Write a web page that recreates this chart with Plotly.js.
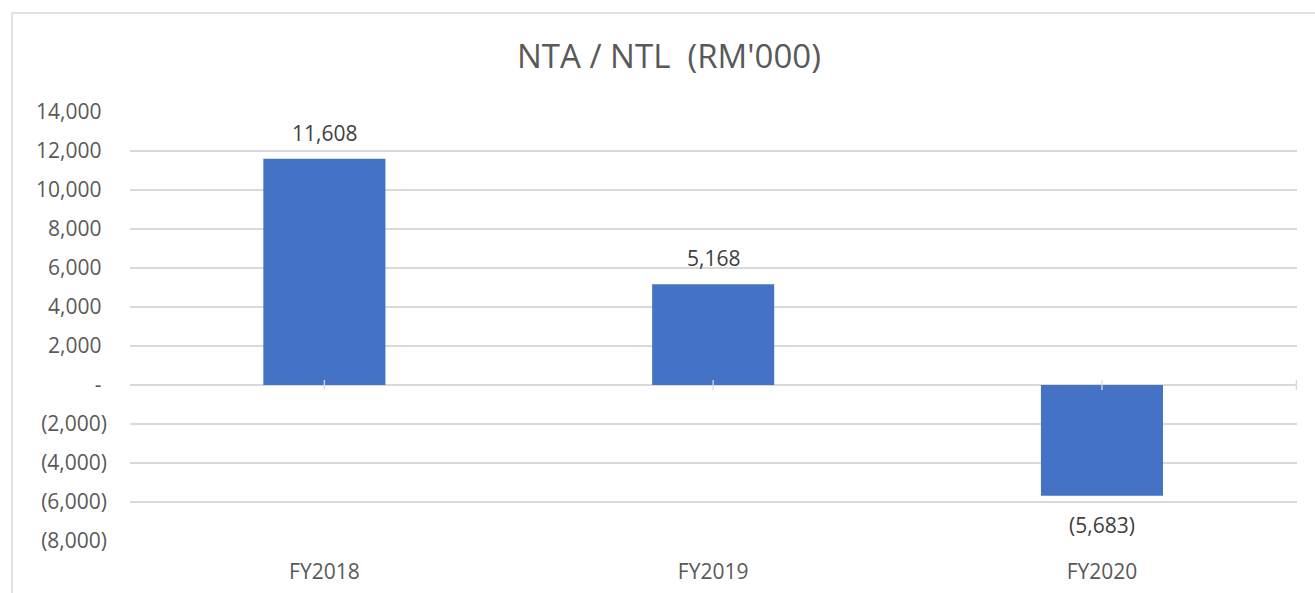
<!DOCTYPE html>
<html>
<head>
<meta charset="utf-8">
<script src="https://cdn.plot.ly/plotly-3.0.1.min.js"></script>
<style>
html,body{margin:0;padding:0;background:#fff;}
#chart{width:1315px;height:593px;}
</style>
</head>
<body>
<div id="chart"></div>
<script>
const categories = ["FY2018", "FY2019", "FY2020"];
const values = [11608, 5168, -5683];
const yTickValues = [14000, 12000, 10000, 8000, 6000, 4000, 2000, 0, -2000, -4000, -6000, -8000];

function fmt(v, pad) {
  if (v === 0) return pad ? "- " : "-";
  const s = Math.abs(v).toLocaleString("en-US");
  return v < 0 ? "(" + s + ")" : (pad ? s + " " : s);
}

const FONT = "Open Sans, Noto Sans, sans-serif";

const trace = {
  type: "bar",
  x: categories,
  y: values,
  marker: {color: "#4472C4", line: {width: 0}},
  hoverinfo: "x+y"
};

const labelAnnotations = categories.map((c, i) => ({
  x: c, y: values[i], xref: "x", yref: "y",
  text: fmt(values[i], false),
  showarrow: false,
  xanchor: "center", yanchor: "middle",
  yshift: values[i] >= 0 ? 26 : -29,
  font: {family: FONT, size: 21, color: "#404040"}
}));

const layout = {
  width: 1315,
  height: 593,
  margin: {l: 130, r: 18, t: 112, b: 52},
  paper_bgcolor: "#ffffff",
  plot_bgcolor: "#ffffff",
  showlegend: false,
  bargap: 0.686,
  title: {
    text: "NTA / NTL  (RM'000)",
    font: {family: FONT, size: 33, color: "#595959"},
    x: 0.5087, xref: "container", xanchor: "center",
    y: 0.905, yref: "container", yanchor: "middle"
  },
  xaxis: {
    type: "category",
    showgrid: false,
    showline: false,
    zeroline: false,
    ticks: "",
    tickfont: {family: FONT, size: 21, color: "#595959"},
    ticklabelstandoff: 16
  },
  yaxis: {
    range: [-8000, 14000],
    tickvals: yTickValues,
    ticktext: yTickValues.map(v => fmt(v, true)),
    tickfont: {family: FONT, size: 21, color: "#595959"},
    showgrid: true,
    gridcolor: "#D9D9D9",
    gridwidth: 1.3,
    zeroline: true,
    zerolinecolor: "#D9D9D9",
    zerolinewidth: 1.3,
    showline: false,
    ticks: "",
    ticklabelstandoff: 22
  },
  annotations: labelAnnotations,
  shapes: [
    {type: "rect", xref: "paper", yref: "paper",
     x0: -0.1011, x1: 1.2, y0: -0.3, y1: 1.2308,
     line: {color: "#D9D9D9", width: 1.5}, fillcolor: "rgba(0,0,0,0)", layer: "below"}
  ].concat([0, 1, 2, 2.5].map(xv => ({
    type: "line", xref: "x", yref: "y",
    x0: xv, x1: xv, y0: -5, y1: 5,
    ysizemode: "pixel", yanchor: 0,
    line: {color: "#D9D9D9", width: 1.3}
  })))
};

Plotly.newPlot("chart", [trace], layout, {displayModeBar: false, staticPlot: true});
</script>
</body>
</html>
